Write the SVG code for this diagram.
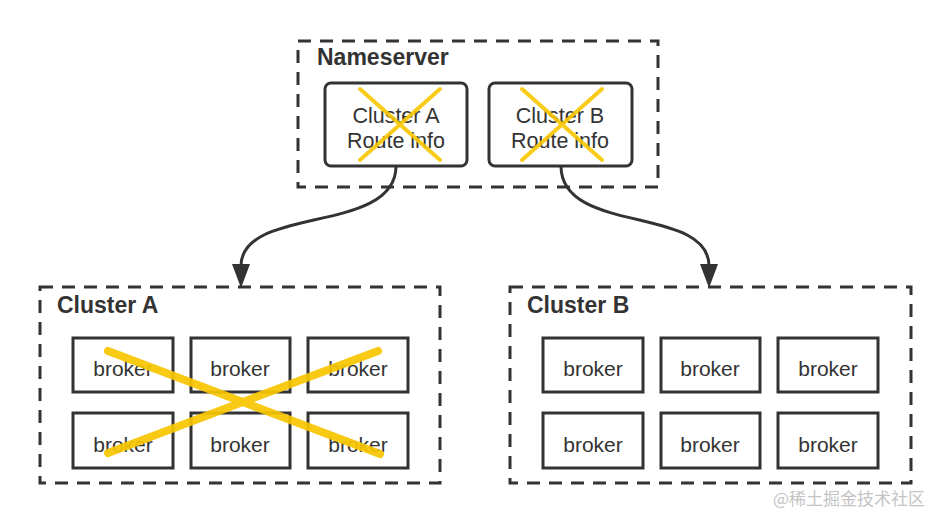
<svg xmlns="http://www.w3.org/2000/svg" width="951" height="524" viewBox="0 0 951 524">
<style>
.grp{fill:none;stroke:#333;stroke-width:3;stroke-dasharray:13 9}
.box{fill:#fff;stroke:#333;stroke-width:3}
.t{font-family:"Liberation Sans",Arial,sans-serif;fill:#333;font-size:21px;text-anchor:middle}
.r{font-size:21.5px}
.h{font-family:"Liberation Sans",Arial,sans-serif;fill:#333;font-size:23px;font-weight:bold}
.x{stroke:#F7C600;stroke-width:4;stroke-linecap:round;fill:none;opacity:0.9}
.bx{stroke:#F7C600;stroke-width:8;stroke-linecap:round;fill:none;opacity:0.92}
.edge{fill:none;stroke:#333;stroke-width:3}
</style>
<rect width="951" height="524" fill="#fff"/>

<g id="nameserver">
<rect class="grp" x="298" y="41" width="360" height="146"/>
<text class="h" x="317" y="65">Nameserver</text>
</g>
<g id="routeA">
<rect class="box" x="325" y="83" width="142" height="83" rx="6"/>
<text class="t r" x="396" y="123">Cluster A</text>
<text class="t r" x="396" y="148">Route info</text>
<path class="x" d="M360,89 L440,160 M440,89 L360,160"/>
</g>
<g id="routeB">
<rect class="box" x="489" y="83" width="143" height="83" rx="6"/>
<text class="t r" x="560" y="123">Cluster B</text>
<text class="t r" x="560" y="148">Route info</text>
<path class="x" d="M522,89 L602,160 M602,89 L522,160"/>
</g>

<g id="clusterA">
<rect class="grp" x="40" y="287" width="400" height="196"/>
<text class="h" x="57" y="313">Cluster A</text>
<rect class="box" x="73" y="338" width="100" height="54"/>
<text class="t" x="123" y="376">broker</text>
<rect class="box" x="191" y="338" width="99" height="54"/>
<text class="t" x="240" y="376">broker</text>
<rect class="box" x="308" y="338" width="100" height="54"/>
<text class="t" x="358" y="376">broker</text>
<rect class="box" x="73" y="413" width="100" height="55"/>
<text class="t" x="123" y="452">broker</text>
<rect class="box" x="191" y="413" width="99" height="55"/>
<text class="t" x="240" y="452">broker</text>
<rect class="box" x="308" y="413" width="100" height="55"/>
<text class="t" x="358" y="452">broker</text>
<path class="bx" d="M108,351 L380,454 M378,351 L108,453"/>
</g>

<g id="clusterB">
<rect class="grp" x="510" y="287" width="401" height="196"/>
<text class="h" x="527" y="313">Cluster B</text>
<rect class="box" x="543" y="338" width="100" height="54"/>
<text class="t" x="593" y="376">broker</text>
<rect class="box" x="661" y="338" width="99" height="54"/>
<text class="t" x="710" y="376">broker</text>
<rect class="box" x="778" y="338" width="100" height="54"/>
<text class="t" x="828" y="376">broker</text>
<rect class="box" x="543" y="413" width="100" height="55"/>
<text class="t" x="593" y="452">broker</text>
<rect class="box" x="661" y="413" width="99" height="55"/>
<text class="t" x="710" y="452">broker</text>
<rect class="box" x="778" y="413" width="100" height="55"/>
<text class="t" x="828" y="452">broker</text>
</g>

<g id="connectors">
<path class="edge" d="M396,166 C396,235 241,205 241,266"/>
<path d="M232,264 L250,264 L241,288 z" fill="#333"/>
<path class="edge" d="M561,166 C561,235 709,205 709,266"/>
<path d="M700,264 L718,264 L709,288 z" fill="#333"/>
</g>

<text x="773" y="505" font-family="'Noto Sans CJK SC','Liberation Sans',sans-serif" font-size="17" fill="#c4c4c4">@稀土掘金技术社区</text>
</svg>
